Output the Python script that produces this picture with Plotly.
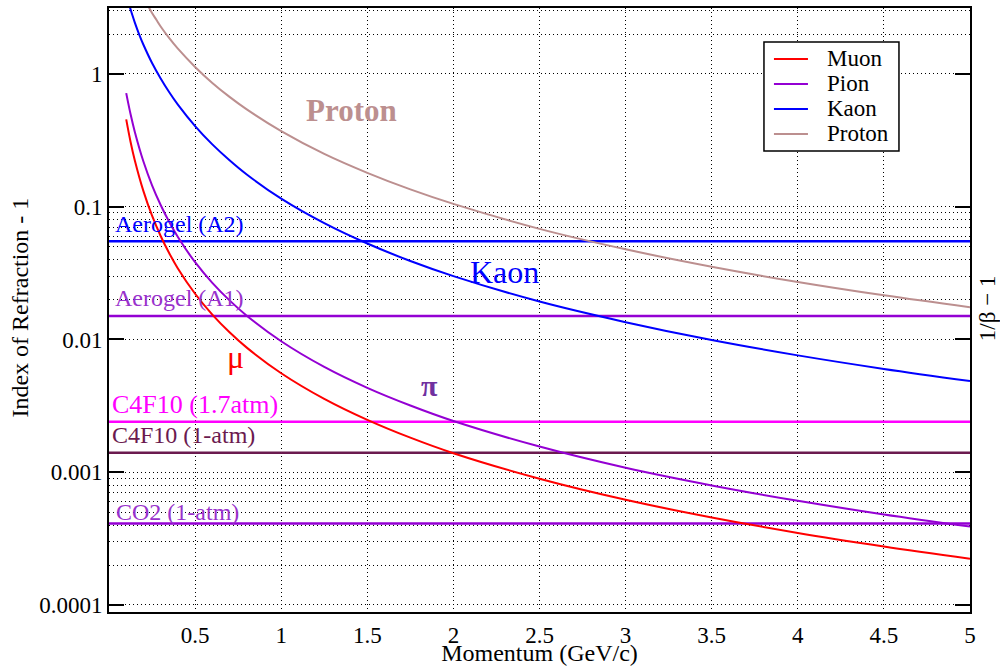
import math
import plotly.graph_objects as go

# Momentum grid (GeV/c) and 1/beta - 1 read for each particle
momentum = [0.1, 0.125, 0.15, 0.2, 0.25, 0.3, 0.35, 0.4, 0.5, 0.6, 0.7, 0.8,
            1.0, 1.25, 1.5, 1.75, 2.0, 2.5, 3.0, 3.5, 4.0, 4.5, 5.0]
muon = [0.455, 0.309, 0.223, 0.131, 0.0856, 0.0602, 0.0446, 0.0343, 0.0221,
        0.0154, 0.01133, 0.00868, 0.00557, 0.00357, 0.00248, 0.00182, 0.00139,
        0.000893, 0.000620, 0.000456, 0.000349, 0.000276, 0.000223]
pion = [0.717, 0.499, 0.366, 0.219, 0.145, 0.103, 0.0766, 0.0591, 0.0382,
        0.0267, 0.0197, 0.0151, 0.00969, 0.00621, 0.00432, 0.00318, 0.00243,
        0.00156, 0.00108, 0.000795, 0.000609, 0.000481, 0.000390]

kaon_momentum = [0.12, 0.135, 0.15, 0.175, 0.2, 0.25, 0.3, 0.35, 0.4, 0.5, 0.6,
                 0.7, 0.8, 1.0, 1.25, 1.5, 1.75, 2.0, 2.5, 3.0, 3.5, 4.0, 4.5, 5.0]
kaon = [3.23, 2.79, 2.44, 1.99, 1.66, 1.21, 0.926, 0.729, 0.588, 0.405, 0.295,
        0.224, 0.175, 0.115, 0.0752, 0.0528, 0.0390, 0.0300, 0.0193, 0.0135,
        0.00990, 0.00759, 0.00600, 0.00486]

proton_momentum = [0.22, 0.25, 0.275, 0.3, 0.35, 0.4, 0.5, 0.6, 0.7, 0.8, 1.0,
                   1.25, 1.5, 1.75, 2.0, 2.5, 3.0, 3.5, 4.0, 4.5, 5.0]
proton = [3.38, 2.88, 2.56, 2.28, 1.86, 1.55, 1.13, 0.856, 0.672, 0.541, 0.371,
          0.250, 0.180, 0.135, 0.105, 0.0681, 0.0478, 0.0353, 0.0271, 0.0215,
          0.0175]

particle_names = ["Muon", "Pion", "Kaon", "Proton"]
particle_colors = ["#ff0000", "#9400d3", "#0000ff", "#bc8f8f"]
particle_x = [momentum, momentum, kaon_momentum, proton_momentum]
particle_y = [muon, pion, kaon, proton]

# Radiators: index of refraction - 1
radiator_names = ["Aerogel (A2)", "Aerogel (A1)", "C4F10 (1.7atm)",
                  "C4F10 (1-atm)", "CO2 (1-atm)"]
radiator_values = [0.055, 0.015, 0.0024, 0.0014, 0.00041]
radiator_colors = ["#0000ff", "#9400d3", "#ff00ff", "#6b1a4f", "#9400d3"]

x_ticks = [0.5, 1, 1.5, 2, 2.5, 3, 3.5, 4, 4.5, 5]
x_tick_text = ["0.5", "1", "1.5", "2", "2.5", "3", "3.5", "4", "4.5", "5"]
y_ticks = [1e-4, 1e-3, 1e-2, 1e-1, 1]
y_tick_text = ["0.0001", "0.001", "0.01", "0.1", "1"]
y_minor_ticks = [2e-4, 2e-3, 2e-2, 2e-1, 2]
y_minor_grid = ([k * 1e-4 for k in range(2, 10)] +
                [k * 1e-2 for k in range(2, 10)] + [2, 3])

FONT = "Liberation Serif"
DOTS = "1px,3px"
X_RANGE = [0, 5]
Y_RANGE = [-4.053, 0.497]

fig = go.Figure()

for name, val, col in zip(radiator_names, radiator_values, radiator_colors):
    fig.add_trace(go.Scatter(
        x=X_RANGE, y=[val, val], mode="lines", name=name,
        line=dict(color=col, width=2.5), hoverinfo="name"))

for name, xs, ys, col in zip(particle_names, particle_x, particle_y, particle_colors):
    fig.add_trace(go.Scatter(
        x=xs, y=ys, mode="lines", name=name,
        line=dict(color=col, width=2, shape="spline", smoothing=1)))

# Radiator labels sit just above their lines
label_x = [0.023, 0.023, 0.005, 0.005, 0.027]
label_shift = [17, 18, 17, 17.5, 12]
label_size = [24, 24, 26, 24, 24]
label_colors = ["#0000ff", "#9932cc", "#ff00ff", "#6b1a4f", "#9932cc"]
annotations = []
for name, val, lx, dy, fs, col in zip(radiator_names, radiator_values, label_x,
                                      label_shift, label_size, label_colors):
    annotations.append(dict(
        x=lx, y=math.log10(val), xref="x", yref="y", text=name, showarrow=False,
        xanchor="left", yanchor="middle", yshift=dy,
        font=dict(family=FONT, size=fs, color=col)))

# Particle labels on the curves
particle_labels = [
    dict(x=1.411, y=-0.275, text="<b>Proton</b>", font=dict(size=31, color="#bc8f8f")),
    dict(x=2.294, y=-1.495, text="Kaon", font=dict(size=32, color="#0000ff")),
    dict(x=0.732, y=-2.132, text="μ", font=dict(size=32, color="#ff0000")),
    dict(x=1.864, y=-2.343, text="<b>π</b>", font=dict(size=30, color="#7030a0")),
]
for a in particle_labels:
    a.update(xref="x", yref="y", showarrow=False, xanchor="center", yanchor="middle")
    a["font"]["family"] = FONT
annotations += particle_labels

# Axis titles
annotations += [
    dict(x=-0.1034, y=0.504, xref="paper", yref="paper", text="Index of Refraction - 1",
         textangle=-90, showarrow=False, xanchor="center", yanchor="middle",
         font=dict(family=FONT, size=24)),
    dict(x=1.0197, y=0.503, xref="paper", yref="paper", text="1/β − 1",
         textangle=-90, showarrow=False, xanchor="center", yanchor="middle",
         font=dict(family=FONT, size=23)),
]

# Legend box drawn in paper coordinates
shapes = [dict(type="rect", xref="paper", yref="paper", x0=0.7607, x1=0.9175,
               y0=0.7632, y1=0.9437, fillcolor="white",
               line=dict(color="black", width=1.5), layer="above")]
row_y = [0.9156, 0.8742, 0.8328, 0.7914]
for name, col, ry in zip(particle_names, particle_colors, row_y):
    shapes.append(dict(type="line", xref="paper", yref="paper", x0=0.7723, x1=0.8118,
                       y0=ry, y1=ry, line=dict(color=col, width=2), layer="above"))
    annotations.append(dict(x=0.8316, y=ry, xref="paper", yref="paper", text=name,
                            showarrow=False, xanchor="left", yanchor="middle",
                            font=dict(family=FONT, size=23)))

fig.update_layout(
    width=1000, height=666,
    margin=dict(l=109, r=30, t=8, b=54, autoexpand=False),
    plot_bgcolor="white", paper_bgcolor="white",
    showlegend=False,
    font=dict(family=FONT, size=23, color="black"),
    xaxis=dict(
        range=X_RANGE, tickmode="array", tickvals=x_ticks, ticktext=x_tick_text,
        ticks="", ticklabelstandoff=1, showline=True, linecolor="black",
        linewidth=2, mirror=True, automargin=False,
        showgrid=True, gridcolor="black", gridwidth=1, griddash=DOTS,
        zeroline=False,
        title=dict(text="Momentum (GeV/c)", font=dict(family=FONT, size=24), standoff=4),
    ),
    yaxis=dict(
        type="log", range=Y_RANGE, tickmode="array", tickvals=y_ticks,
        ticktext=y_tick_text, ticks="inside", ticklen=15, tickwidth=1.5,
        tickcolor="black", showline=True, linecolor="black", linewidth=2,
        mirror="ticks", showgrid=True, gridcolor="black", gridwidth=1,
        griddash=DOTS, zeroline=False, automargin=False,
        minor=dict(tickmode="array", tickvals=y_minor_grid, ticks="",
                   showgrid=True, gridcolor="black", gridwidth=1, griddash=DOTS),
    ),
    yaxis2=dict(
        type="log", range=Y_RANGE, overlaying="y", side="left",
        tickmode="array", tickvals=y_minor_ticks, ticks="inside", ticklen=8,
        tickwidth=1.5, tickcolor="black", showticklabels=False,
        showline=True, linecolor="black", linewidth=2, mirror="ticks",
        showgrid=False, zeroline=False, automargin=False,
    ),
    annotations=annotations,
    shapes=shapes,
)

fig.write_html("out.html")
